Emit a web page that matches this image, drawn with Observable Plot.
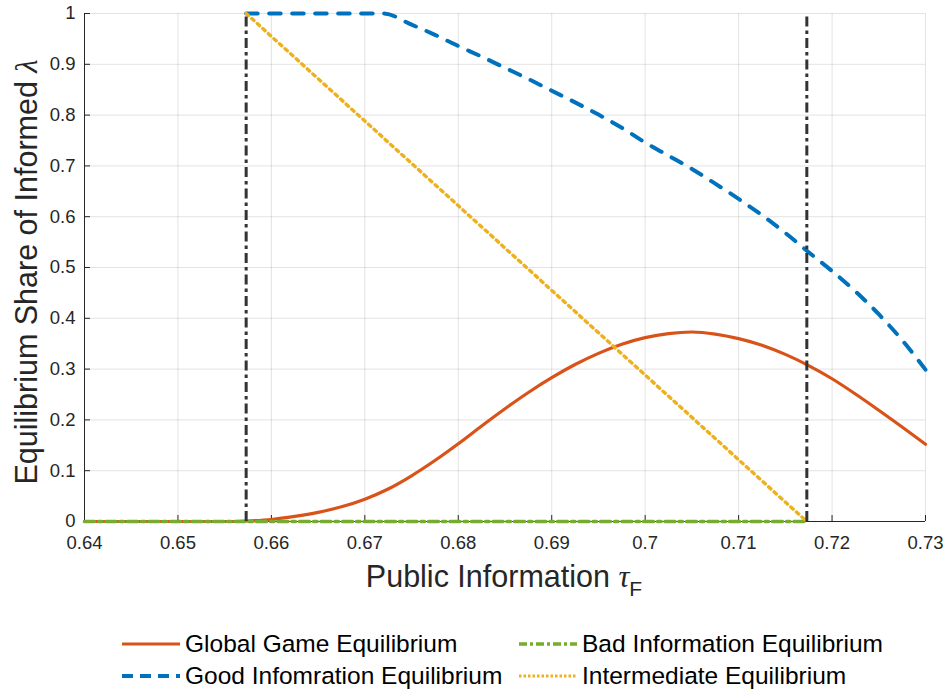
<!DOCTYPE html>
<html>
<head>
<meta charset="utf-8">
<script src="https://cdn.jsdelivr.net/npm/d3@7"></script>
<script src="https://cdn.jsdelivr.net/npm/@observablehq/plot@0.6"></script>
<style>
  html, body { margin: 0; padding: 0; background: #fff; }
  body { width: 948px; height: 694px; position: relative; overflow: hidden; font-family: "Liberation Sans", Arial, Helvetica, sans-serif; }
  #legend { position: absolute; left: 0; top: 0; width: 948px; height: 694px; pointer-events: none; }
  .item { position: absolute; display: flex; align-items: center; font-size: 24.5px; color: #000; white-space: nowrap; }
  .item svg { margin-right: 5px; }
</style>
</head>
<body>
<div id="chart"></div>
<div id="legend"></div>
<script>
// ---- data ----
const xTicks = [0.64, 0.65, 0.66, 0.67, 0.68, 0.69, 0.70, 0.71, 0.72, 0.73];
const yTicks = [0, 0.1, 0.2, 0.3, 0.4, 0.5, 0.6, 0.7, 0.8, 0.9, 1];

const globalX = [0.64, 0.65, 0.655, 0.6573, 0.66, 0.6625, 0.665, 0.6675, 0.67, 0.6725, 0.675, 0.6775, 0.68, 0.6825, 0.685, 0.6875, 0.69, 0.6925, 0.695, 0.6975, 0.70, 0.7025, 0.705, 0.7075, 0.71, 0.7125, 0.715, 0.7175, 0.72, 0.7225, 0.725, 0.7275, 0.73];
const globalY = [0, 0, 0, 0.001, 0.004, 0.010, 0.018, 0.029, 0.044, 0.064, 0.090, 0.120, 0.153, 0.188, 0.222, 0.254, 0.283, 0.309, 0.331, 0.349, 0.362, 0.370, 0.373, 0.369, 0.360, 0.347, 0.329, 0.307, 0.281, 0.251, 0.219, 0.186, 0.152];

const goodX = [0.6573, 0.665, 0.672, 0.675, 0.6775, 0.68, 0.6825, 0.685, 0.6875, 0.69, 0.6925, 0.695, 0.6975, 0.70, 0.7025, 0.705, 0.7075, 0.71, 0.7125, 0.715, 0.7175, 0.72, 0.7225, 0.725, 0.7275, 0.73];
const goodY = [1, 1, 1, 0.978, 0.958, 0.936, 0.915, 0.893, 0.871, 0.848, 0.825, 0.801, 0.775, 0.746, 0.72, 0.694, 0.665, 0.635, 0.603, 0.568, 0.53, 0.493, 0.453, 0.408, 0.357, 0.299];

const badX = [0.64, 0.7173];
const badY = [0, 0];

const interX = [0.6573, 0.7173];
const interY = [1, 0];

const boundaries = [0.6573, 0.7173];

const seriesNames = ["Global Game Equilibrium", "Good Infomration Equilibrium", "Bad Information Equilibrium", "Intermediate Equilibrium"];
const seriesColors = ["#D95319", "#0072BD", "#77AC30", "#EDB120"];

// ---- build tables ----
const toRows = (xs, ys) => xs.map((x, i) => ({x, y: ys[i]}));
const globalData = toRows(globalX, globalY);
const goodData = toRows(goodX, goodY);
const badData = toRows(badX, badY);
const interData = toRows(interX, interY);

const ink = "#262626";
const width = 948, height = 610;
const mL = 84, mR = 23, mT = 13, mB = 89;
const frameW = width - mL - mR, frameH = height - mT - mB;

const chart = Plot.plot({
  width, height,
  marginLeft: mL, marginRight: mR, marginTop: mT, marginBottom: mB,
  style: { fontFamily: "'Liberation Sans', Arial, Helvetica, sans-serif", fontSize: "18.5px", color: ink, background: "#fff" },
  x: { domain: [0.64, 0.73] },
  y: { domain: [0, 1] },
  marks: [
    // grid
    Plot.ruleX(xTicks, { x: d => d, stroke: ink, strokeOpacity: 0.13 }),
    Plot.ruleY(yTicks, { y: d => d, stroke: ink, strokeOpacity: 0.13 }),
    // axis lines
    Plot.ruleX([0.64], { x: d => d, stroke: ink, strokeWidth: 1 }),
    Plot.ruleY([0], { y: d => d, stroke: ink, strokeWidth: 1 }),
    // inward ticks
    Plot.tickX(xTicks, { x: d => d, stroke: ink, insetTop: frameH - 6 }),
    Plot.tickY(yTicks, { y: d => d, stroke: ink, insetRight: frameW - 6 }),
    Plot.axisX({ ticks: xTicks, tickSize: 0, tickPadding: 14, label: null, fontSize: 18.5, tickFormat: d => String(+d.toFixed(2)), fill: ink }),
    Plot.axisY({ ticks: yTicks, tickSize: 0, tickPadding: 9, label: null, fontSize: 18.5, tickFormat: d => String(+d.toFixed(1)), fill: ink }),
    // series
    Plot.line(globalData, { x: "x", y: "y", stroke: seriesColors[0], strokeWidth: 3.2, curve: "monotone-x" }),
    Plot.line(goodData, { x: "x", y: "y", stroke: seriesColors[1], strokeWidth: 4, strokeDasharray: "11.5,11.5", curve: "monotone-x" }),
    Plot.line(badData, { x: "x", y: "y", stroke: seriesColors[2], strokeWidth: 3.5, strokeDasharray: "10,4,3.5,4" }),
    Plot.line(interData, { x: "x", y: "y", stroke: seriesColors[3], strokeWidth: 3.4, strokeDasharray: "3,4.5" }),
    // boundaries
    Plot.ruleX(boundaries, { x: d => d, y1: 0, y2: 1, stroke: "#333333", strokeWidth: 3, strokeDasharray: "10,4,3.5,4" })
  ]
});
document.getElementById("chart").appendChild(chart);

// axis labels (with math symbols)
const svg = d3.select(chart);
const xl = svg.append("text")
  .attr("x", 504).attr("y", 587)
  .attr("text-anchor", "middle")
  .attr("fill", ink)
  .style("font-size", "30.5px")
  .style("font-family", "'Liberation Sans', Arial, sans-serif");
xl.append("tspan").text("Public Information ");
xl.append("tspan").text("τ").style("font-family", "'Liberation Serif', 'DejaVu Serif', serif").style("font-style", "italic");
xl.append("tspan").text("F").attr("dy", 9).style("font-size", "21px");

const yl = svg.append("text")
  .attr("transform", "translate(37,272) rotate(-90)")
  .attr("text-anchor", "middle")
  .attr("fill", ink)
  .style("font-size", "30.5px")
  .style("font-family", "'Liberation Sans', Arial, sans-serif");
yl.append("tspan").text("Equilibrium Share of Informed ");
yl.append("tspan").text("λ").style("font-family", "'Liberation Serif', 'DejaVu Serif', serif").style("font-style", "italic");

// legend
const legendDash = ["", "11,7", "8,3,3,3", "2.5,2"];
const legendWidth = [3, 4, 3.5, 3];
const legendPos = [[122, 644], [122, 676], [519, 644], [519, 676]];
const legend = document.getElementById("legend");
seriesNames.forEach((name, i) => {
  const item = document.createElement("div");
  item.className = "item";
  item.style.left = legendPos[i][0] + "px";
  item.style.top = (legendPos[i][1] - 16) + "px";
  item.style.height = "32px";
  const sw = `<svg width="58" height="12"><line x1="0" x2="58" y1="6" y2="6" stroke="${seriesColors[i]}" stroke-width="${legendWidth[i]}" stroke-dasharray="${legendDash[i]}"/></svg>`;
  item.innerHTML = sw + `<span>${name}</span>`;
  legend.appendChild(item);
});
</script>
</body>
</html>
